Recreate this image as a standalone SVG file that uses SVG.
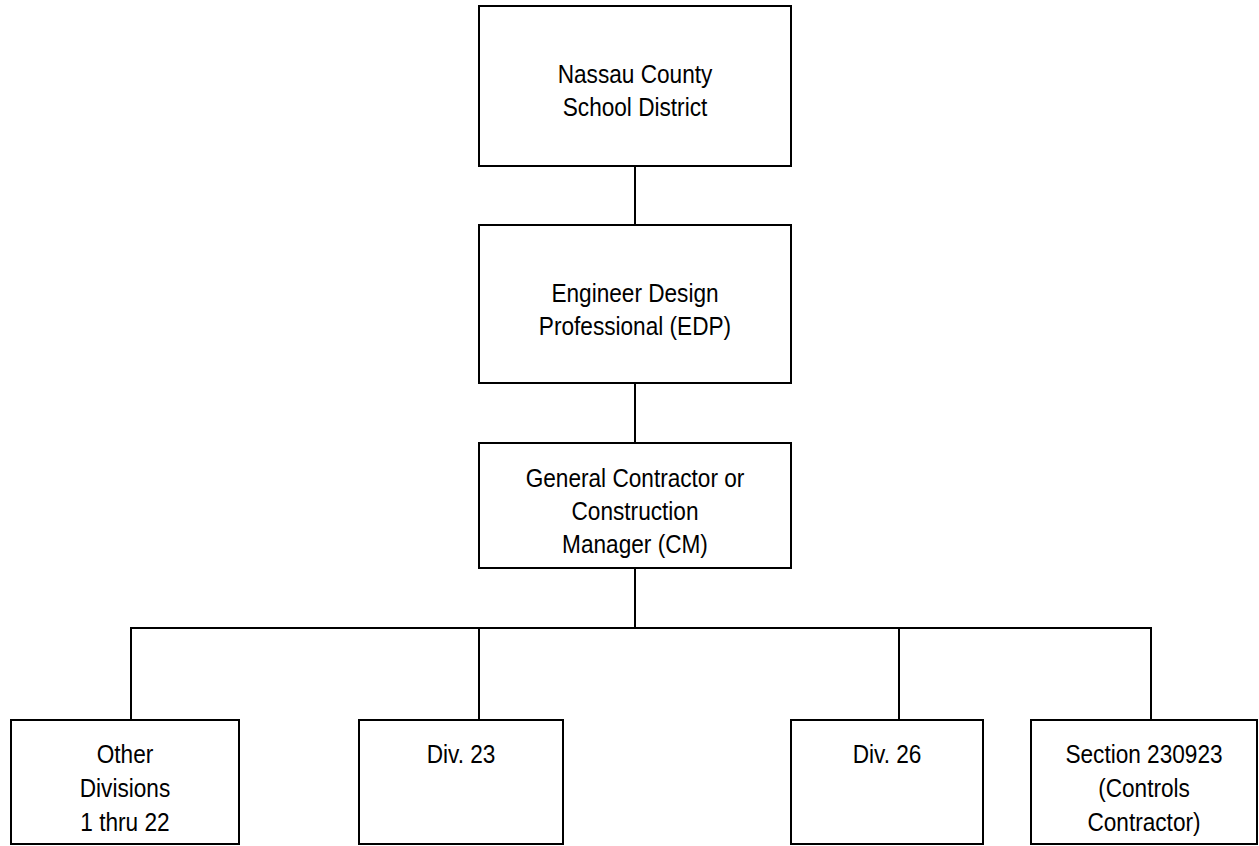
<svg xmlns="http://www.w3.org/2000/svg" width="1259" height="846" viewBox="0 0 1259 846">
<style>
.box{fill:#fff;stroke:#000;stroke-width:2}
.lbl{font-family:"Liberation Sans",Arial,sans-serif;font-size:26px;fill:#000;text-anchor:middle}
.conn{fill:none;stroke:#000;stroke-width:2}
</style>
<rect width="1259" height="846" fill="#fff"/>
<g id="connectors">
<line class="conn" x1="635" y1="166" x2="635" y2="225"/>
<line class="conn" x1="635" y1="383" x2="635" y2="443"/>
<line class="conn" x1="635" y1="568" x2="635" y2="628"/>
<polyline class="conn" points="131,720 131,628 1151,628 1151,720"/>
<line class="conn" x1="479" y1="628" x2="479" y2="720"/>
<line class="conn" x1="899" y1="628" x2="899" y2="720"/>
</g>
<g id="nassau">
<rect class="box" x="479" y="6" width="312" height="160"/>
<g transform="translate(635 0) scale(0.87 1)"><text class="lbl" x="0" y="83">Nassau County</text><text class="lbl" x="0" y="116">School District</text></g>
</g>
<g id="edp">
<rect class="box" x="479" y="225" width="312" height="158"/>
<g transform="translate(635 0) scale(0.87 1)"><text class="lbl" x="0" y="302">Engineer Design</text><text class="lbl" x="0" y="335">Professional (EDP)</text></g>
</g>
<g id="cm">
<rect class="box" x="479" y="443" width="312" height="125"/>
<g transform="translate(635 0) scale(0.87 1)"><text class="lbl" x="0" y="487">General Contractor or</text><text class="lbl" x="0" y="520">Construction</text><text class="lbl" x="0" y="553">Manager (CM)</text></g>
</g>
<g id="other">
<rect class="box" x="11" y="720" width="228" height="124"/>
<g transform="translate(125 0) scale(0.87 1)"><text class="lbl" x="0" y="763">Other</text><text class="lbl" x="0" y="797">Divisions</text><text class="lbl" x="0" y="831">1 thru 22</text></g>
</g>
<g id="div23">
<rect class="box" x="359" y="720" width="204" height="124"/>
<g transform="translate(461 0) scale(0.87 1)"><text class="lbl" x="0" y="763">Div. 23</text></g>
</g>
<g id="div26">
<rect class="box" x="791" y="720" width="192" height="124"/>
<g transform="translate(887 0) scale(0.87 1)"><text class="lbl" x="0" y="763">Div. 26</text></g>
</g>
<g id="section">
<rect class="box" x="1031" y="720" width="226" height="124"/>
<g transform="translate(1144 0) scale(0.87 1)"><text class="lbl" x="0" y="763">Section 230923</text><text class="lbl" x="0" y="797">(Controls</text><text class="lbl" x="0" y="831">Contractor)</text></g>
</g>
</svg>
